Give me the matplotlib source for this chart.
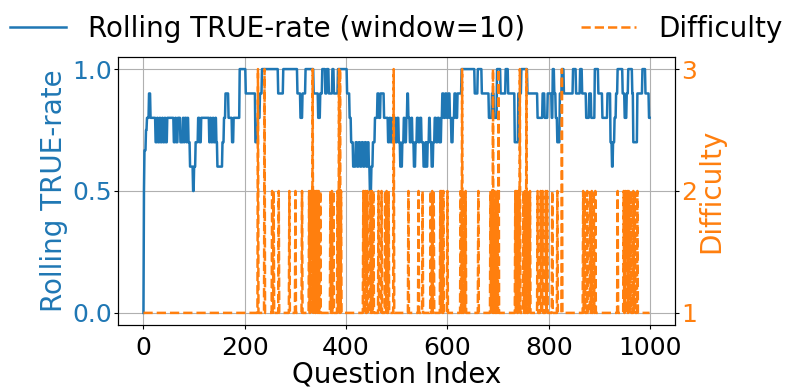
import numpy as np
import matplotlib
matplotlib.use("Agg")
import matplotlib.pyplot as plt

# rolling TRUE-rate, stored as runs: (start index, value)
roll_start = [0, 1, 2, 5, 7, 11, 14, 24, 27, 29, 32, 34, 37, 39, 42, 44, 47,
              60, 63, 65, 68, 73, 78, 80, 82, 85, 87, 89, 92, 98, 100, 103,
              108, 111, 114, 130, 132, 134, 137, 139, 142, 144, 146, 156,
              159, 162, 168, 175, 178, 190, 202, 221, 226, 230, 234, 266,
              276, 304, 310, 314, 320, 336, 345, 349, 353, 359, 362, 366,
              373, 376, 384, 402, 407, 410, 414, 419, 422, 425, 428, 431,
              434, 437, 440, 443, 445, 447, 450, 453, 457, 462, 465, 468,
              475, 483, 486, 488, 491, 493, 496, 498, 501, 504, 507, 511,
              514, 516, 519, 521, 523, 526, 529, 531, 534, 537, 540, 543,
              546, 549, 553, 557, 559, 561, 564, 566, 569, 572, 575, 578,
              581, 584, 588, 590, 593, 596, 599, 602, 605, 608, 611, 614,
              617, 620, 628, 654, 660, 668, 682, 688, 692, 698, 705, 715,
              720, 733, 740, 746, 758, 778, 788, 792, 798, 806, 808, 811,
              814, 817, 822, 826, 830, 848, 854, 862, 866, 874, 880, 884,
              891, 898, 906, 916, 922, 925, 927, 930, 933, 936, 946, 950,
              954, 957, 965, 967, 975, 985, 991, 998]
roll_value = [0.0, 0.5, 0.667, 0.75, 0.8, 0.9, 0.8, 0.7, 0.8, 0.7, 0.8, 0.7,
              0.8, 0.7, 0.8, 0.7, 0.8, 0.7, 0.8, 0.7, 0.8, 0.7, 0.8, 0.7,
              0.8, 0.7, 0.8, 0.7, 0.6, 0.5, 0.6, 0.7, 0.8, 0.7, 0.8, 0.7,
              0.8, 0.7, 0.8, 0.7, 0.8, 0.7, 0.6, 0.7, 0.8, 0.9, 0.8, 0.7,
              0.8, 1.0, 0.9, 0.7, 0.8, 0.9, 1.0, 0.9, 1.0, 0.9, 0.8, 0.9,
              1.0, 0.9, 0.8, 0.9, 1.0, 0.9, 1.0, 0.9, 1.0, 0.9, 1.0, 0.9,
              0.8, 0.7, 0.6, 0.7, 0.6, 0.7, 0.6, 0.7, 0.6, 0.7, 0.6, 0.7,
              0.6, 0.5, 0.6, 0.7, 0.8, 0.9, 0.8, 0.9, 0.8, 0.7, 0.8, 0.7,
              0.8, 0.7, 0.8, 0.7, 0.8, 0.7, 0.6, 0.7, 0.8, 0.7, 0.8, 0.9,
              0.8, 0.7, 0.8, 0.7, 0.6, 0.7, 0.8, 0.7, 0.8, 0.7, 0.6, 0.7,
              0.6, 0.7, 0.8, 0.7, 0.6, 0.7, 0.8, 0.7, 0.8, 0.7, 0.8, 0.9,
              0.8, 0.9, 0.8, 0.9, 0.8, 0.7, 0.8, 0.9, 0.8, 0.9, 1.0, 0.9,
              1.0, 0.9, 0.8, 0.9, 0.8, 1.0, 0.9, 1.0, 0.9, 0.7, 0.9, 1.0,
              0.9, 0.8, 0.9, 0.8, 0.9, 0.8, 1.0, 0.9, 0.8, 0.7, 0.9, 1.0,
              0.9, 1.0, 0.9, 1.0, 0.9, 0.8, 0.9, 0.8, 1.0, 0.9, 0.8, 0.9,
              0.7, 0.6, 0.7, 0.8, 0.9, 1.0, 0.9, 0.8, 0.9, 1.0, 0.9, 0.7,
              0.9, 1.0, 0.9, 0.8]
n_questions = 1000

# difficulty: 1 everywhere except these question indices
diff2_idx = [254, 257, 267, 288, 300, 313, 327, 330, 336, 338, 341, 343, 346,
             349, 369, 372, 375, 383, 390, 434, 438, 442, 448, 451, 454, 464,
             470, 477, 480, 484, 523, 543, 551, 567, 570, 573, 586, 589, 592,
             600, 626, 633, 636, 661, 685, 688, 693, 696, 699, 734, 737, 740,
             750, 753, 760, 763, 778, 784, 788, 794, 797, 807, 817, 868, 871,
             876, 882, 885, 889, 892, 936, 948, 951, 955, 958, 962, 967, 970,
             975]
diff3_idx = [226, 239, 334, 386, 388, 494, 629, 690, 701, 743, 756, 826]

run_len = np.diff(roll_start + [n_questions])
rolling = np.repeat(roll_value, run_len)
difficulty = np.ones(n_questions)
difficulty[diff2_idx] = 2
difficulty[diff3_idx] = 3
q_index = np.arange(n_questions)

fs = 20
tfs = 18
fig, ax = plt.subplots(figsize=(7.93, 3.87), dpi=100)
fig.subplots_adjust(left=0.149, right=0.851, bottom=0.16, top=0.853)

l1, = ax.plot(q_index, rolling, color='tab:blue', lw=1.8,
              label='Rolling TRUE-rate (window=10)')
ax.set_xlabel('Question Index', fontsize=fs, labelpad=0)
ax.set_ylabel('Rolling TRUE-rate', color='tab:blue', fontsize=fs, labelpad=3)
ax.tick_params(axis='y', labelcolor='tab:blue', labelsize=tfs, length=3, pad=1.5)
ax.tick_params(axis='x', labelsize=tfs, length=3, pad=5)
ax.set_yticks([0.0, 0.5, 1.0])
ax.grid(True)

ax2 = ax.twinx()
l2, = ax2.plot(q_index, difficulty, color='tab:orange', ls='--', lw=1.8,
               label='Difficulty')
ax2.set_ylabel('Difficulty', color='tab:orange', fontsize=fs, labelpad=0)
ax2.tick_params(axis='y', labelcolor='tab:orange', labelsize=tfs, length=3, pad=1.5)
ax2.set_yticks([1, 2, 3])

ax.legend(handles=[l1, l2], loc='lower center', bbox_to_anchor=(0.5, 0.96),
          ncol=2, frameon=False, fontsize=fs)

fig.savefig('out.png')
